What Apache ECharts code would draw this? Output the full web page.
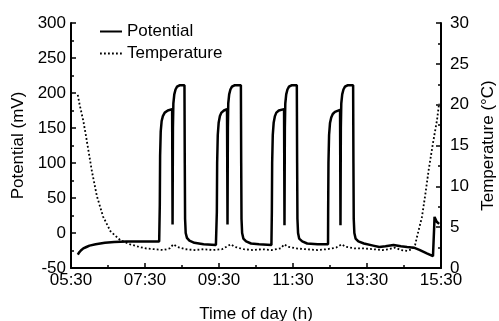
<!DOCTYPE html>
<html>
<head>
<meta charset="utf-8">
<script src="https://cdn.jsdelivr.net/npm/echarts@6/dist/echarts.min.js"></script>
<style>html,body{margin:0;padding:0;background:#fff}#c{width:499px;height:321px}</style>
</head>
<body>
<div id="c"></div>
<script>
// x values: minutes after 05:30
const xTickLabels = ['05:30','07:30','09:30','11:30','13:30','15:30'];
const potentialPoints = [
  [11,-31],[13,-28],[16,-25],[20,-22],[25,-20],[30,-18],[40,-16],[55,-14],[70,-13],[90,-12],[110,-12],[130,-12],[143,-12],
  [144,40],[144.5,110],[145.5,145],[147,160],[149,167],[152,172],[157,175],[164,177],[164.7,12],[165.3,150],[166,185],[167.5,198],[169.5,205],[172,209],[176,211],[184,211],[184.5,100],[185,20],[186,0],[188,-7],[192,-11],[200,-14],[215,-16],[235,-17],
  [236.5,30],[237,100],[238,140],[239.5,158],[241.5,167],[244,172],[248,175],[253,177],[253.8,12],[254.4,150],[255,185],[256.5,198],[258.5,205],[261,209],[265,211],[275.5,211],[276,100],[276.5,20],[277.5,0],[279.5,-8],[284,-12],[292,-15],[305,-16],[325,-17],
  [325.7,30],[326.2,100],[327.2,140],[328.7,158],[330.7,167],[333,172],[337,175],[345.5,177],[346.2,11],[346.8,150],[347.5,185],[349,198],[351,205],[353.5,209],[357.5,211],[366.2,211],[366.7,100],[367.2,20],[368.2,0],[370,-8],[375,-12],[383,-15],[400,-16],[416.8,-16],
  [417,30],[417.5,100],[418.5,140],[420,157],[422,165],[424.5,170],[428,173],[436.3,176],[437,11],[437.6,150],[438.3,185],[439.8,198],[441.8,205],[444.3,209],[448.3,211],[457.5,211],[458,100],[458.5,20],[459.5,0],[461.5,-8],
  [466,-12],[475,-15],[490,-18],[500,-20],[510,-19],[523,-17],[535,-19],[545,-20],[556,-21],[565,-24],[577,-29],[587,-33],[588.5,-31],[589,10],[589.5,23],[591,20],[593,16],[596,14],[597,13]
];
const temperaturePoints = [
  [11,21.2],[14,20],[17,19],[20,18],[24,16.3],[28,14.5],[34,11.8],[42,8.8],[52,6.3],[64,4.5],[80,3.4],[96,2.9],[110,2.6],[121,2.4],[135,2.3],[150,2.2],[160,2.4],[166,2.9],[172,2.6],[185,2.3],[200,2.2],[215,2.3],[230,2.2],[245,2.3],[259,2.9],[265,2.6],[280,2.3],[295,2.2],[310,2.3],[325,2.2],[340,2.4],[346,2.9],[352,2.6],[365,2.4],[380,2.3],[400,2.2],[415,2.3],[430,2.5],[439,2.9],[445,2.6],[460,2.4],[475,2.4],[490,2.3],[505,2.2],[515,2.3],[525,2.5],[535,2.2],[545,2.1],[553,2.3],[558,2.8],[561,3.8],[565,5],[569,6.2],[574,8.7],[580,12],[587,15.3],[593.5,18.1],[597,20.2]
];

const FONT = 'Liberation Sans, Arial, sans-serif';
const chart = echarts.init(document.getElementById('c'), null, {renderer:'canvas'});
const axisCommon = {
  axisLine:{show:true,onZero:false,lineStyle:{color:'#000',width:2}},
  axisTick:{show:true,inside:true,length:5,lineStyle:{color:'#000',width:1.5}},
  minorTick:{show:true,splitNumber:2,length:3,lineStyle:{color:'#000',width:1.5}},
  splitLine:{show:false},
  axisLabel:{color:'#000',fontSize:17,fontFamily:FONT},
  nameTextStyle:{color:'#000',fontSize:17,fontFamily:FONT}
};
chart.setOption({
  animation:false,
  backgroundColor:'#fff',
  grid:{left:71,right:58,top:23,bottom:53,containLabel:false,outerBoundsMode:'none'},
  legend:{
    orient:'vertical',left:94,top:18,itemWidth:22,itemHeight:12,itemGap:5,
    itemStyle:{opacity:0},
    textStyle:{color:'#000',fontSize:17,fontFamily:FONT},
    data:['Potential','Temperature']
  },
  xAxis:Object.assign({},axisCommon,{
    type:'value',min:0,max:600,interval:120,
    name:'Time of day (h)',nameLocation:'middle',nameGap:38,
    axisLabel:Object.assign({},axisCommon.axisLabel,{margin:4,formatter:v=>xTickLabels[Math.round(v/120)]})
  }),
  yAxis:[
    Object.assign({},axisCommon,{
      type:'value',min:-50,max:300,interval:50,position:'left',
      name:'Potential (mV)',nameLocation:'middle',nameGap:40,
      axisLabel:Object.assign({},axisCommon.axisLabel,{margin:5})
    }),
    Object.assign({},axisCommon,{
      type:'value',min:0,max:30,interval:5,position:'right',
      name:'Temperature (°C)',nameLocation:'middle',nameGap:39,
      axisLabel:Object.assign({},axisCommon.axisLabel,{margin:9})
    })
  ],
  series:[
    {name:'Potential',type:'line',yAxisIndex:0,data:potentialPoints,symbol:'none',
     lineStyle:{color:'#000',width:2.5},itemStyle:{color:'#000'}},
    {name:'Temperature',type:'line',yAxisIndex:1,data:temperaturePoints,symbol:'none',
     lineStyle:{color:'#000',width:1.8,type:[1.8,2.2]},itemStyle:{color:'#000'}}
  ]
});
</script>
</body>
</html>
